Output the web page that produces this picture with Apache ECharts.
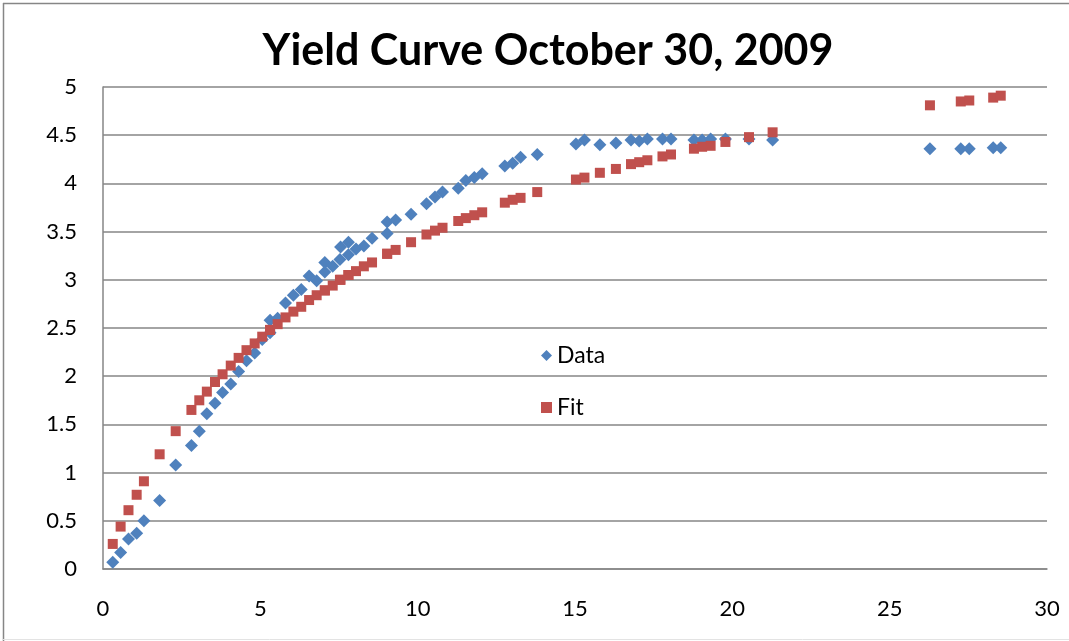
<!DOCTYPE html>
<html>
<head>
<meta charset="utf-8">
<script src="https://cdn.jsdelivr.net/npm/echarts@6/dist/echarts.min.js"></script>
<style>
  html, body { margin: 0; padding: 0; background: #fff; }
  #main { width: 1069px; height: 641px; }
</style>
</head>
<body>
<div id="main"></div>
<script>
// maturity (years) - some maturities appear twice in the data
var maturity = [0.31, 0.56, 0.81, 1.07, 1.30, 1.80, 2.31, 2.81, 3.06, 3.30,
    3.56, 3.80, 4.06, 4.31, 4.56, 4.82, 5.06, 5.31, 5.31, 5.55,
    5.80, 6.05, 6.30, 6.55, 6.79, 7.05, 7.05, 7.30, 7.53, 7.55,
    7.80, 7.80, 8.04, 8.29, 8.55, 9.03, 9.03, 9.30, 9.79, 10.28,
    10.55, 10.79, 11.29, 11.53, 11.80, 12.05, 12.77, 13.02, 13.27, 13.80,
    15.03, 15.30, 15.79, 16.30, 16.78, 17.04, 17.30, 17.78, 18.05, 18.78,
    19.04, 19.31, 19.78, 20.53, 21.28, 26.28, 27.26, 27.53, 28.29, 28.53];

var dataYield = [0.07, 0.17, 0.31, 0.37, 0.50, 0.71, 1.08, 1.28, 1.43, 1.61,
    1.72, 1.83, 1.92, 2.05, 2.16, 2.24, 2.38, 2.45, 2.58, 2.60,
    2.76, 2.84, 2.90, 3.04, 2.99, 3.08, 3.18, 3.14, 3.21, 3.34,
    3.39, 3.26, 3.32, 3.35, 3.43, 3.48, 3.60, 3.62, 3.68, 3.79,
    3.86, 3.91, 3.95, 4.03, 4.06, 4.10, 4.18, 4.21, 4.27, 4.30,
    4.41, 4.45, 4.40, 4.42, 4.45, 4.44, 4.46, 4.46, 4.46, 4.45,
    4.45, 4.46, 4.46, 4.46, 4.45, 4.36, 4.36, 4.36, 4.37, 4.37];

var fitYield = [0.26, 0.44, 0.61, 0.77, 0.91, 1.19, 1.43, 1.65, 1.75, 1.84,
    1.94, 2.02, 2.11, 2.19, 2.27, 2.34, 2.41, 2.48, 2.48, 2.54,
    2.61, 2.67, 2.72, 2.79, 2.84, 2.89, 2.89, 2.94, 3.00, 3.00,
    3.05, 3.05, 3.09, 3.14, 3.18, 3.27, 3.27, 3.31, 3.39, 3.47,
    3.51, 3.54, 3.61, 3.64, 3.67, 3.70, 3.80, 3.83, 3.85, 3.91,
    4.04, 4.06, 4.11, 4.15, 4.20, 4.22, 4.24, 4.28, 4.30, 4.36,
    4.38, 4.39, 4.43, 4.48, 4.53, 4.81, 4.85, 4.86, 4.89, 4.91];

var xTicks = [0, 5, 10, 15, 20, 25, 30];
var yTicks = [0, 0.5, 1, 1.5, 2, 2.5, 3, 3.5, 4, 4.5, 5];

function pairs(ys) {
    return maturity.map(function (x, i) { return [x, ys[i]]; });
}

var font = 'Lato, "Open Sans", sans-serif';
var gray = '#868686';

var chart = echarts.init(document.getElementById('main'), null, { renderer: 'canvas' });

var option = {
    animation: false,
    backgroundColor: '#fff',
    title: {
        text: 'Yield Curve October 30, 2009',
        left: 543,
        textAlign: 'center',
        top: 25,
        textStyle: { fontFamily: font, fontSize: 43, fontWeight: 'bold', color: '#000' }
    },
    // chart area frame
    graphic: [
        { type: 'line', shape: { x1: 3, y1: 3.5, x2: 1069, y2: 3.5 }, style: { stroke: gray, lineWidth: 1.5 }, silent: true },
        { type: 'line', shape: { x1: 3.5, y1: 3, x2: 3.5, y2: 641 }, style: { stroke: gray, lineWidth: 1.5 }, silent: true },
        { type: 'line', shape: { x1: 3, y1: 639.5, x2: 1069, y2: 639.5 }, style: { stroke: '#e3e3e3', lineWidth: 1 }, silent: true }
    ],
    legend: {
        orient: 'vertical',
        left: 536,
        top: 339,
        itemGap: 29,
        itemWidth: 11,
        itemHeight: 11,
        textStyle: { fontFamily: font, fontSize: 23, color: '#000' },
        data: [
            { name: 'Data', icon: 'diamond' },
            { name: 'Fit', icon: 'rect' }
        ]
    },
    grid: { left: 103, right: 22, top: 87, bottom: 72 },
    xAxis: {
        type: 'value',
        min: xTicks[0],
        max: xTicks[xTicks.length - 1],
        interval: 5,
        axisLine: { lineStyle: { color: gray, width: 1.5 } },
        axisTick: { show: false },
        splitLine: { show: false },
        axisLabel: { margin: 29, fontFamily: font, fontSize: 22, color: '#000' }
    },
    yAxis: {
        type: 'value',
        min: yTicks[0],
        max: yTicks[yTicks.length - 1],
        interval: 0.5,
        axisLine: { show: true, lineStyle: { color: gray, width: 1.5 } },
        axisTick: { show: false },
        splitLine: { lineStyle: { color: gray, width: 1.5 } },
        axisLabel: { margin: 26, fontFamily: font, fontSize: 22, color: '#000' }
    },
    series: [
        {
            name: 'Data',
            type: 'scatter',
            symbol: 'diamond',
            symbolSize: 13,
            itemStyle: { color: '#4F81BD', opacity: 1 },
            data: pairs(dataYield)
        },
        {
            name: 'Fit',
            type: 'scatter',
            symbol: 'rect',
            symbolSize: 10,
            itemStyle: { color: '#C0504D', opacity: 1 },
            data: pairs(fitYield)
        }
    ]
};

chart.setOption(option);
</script>
</body>
</html>
